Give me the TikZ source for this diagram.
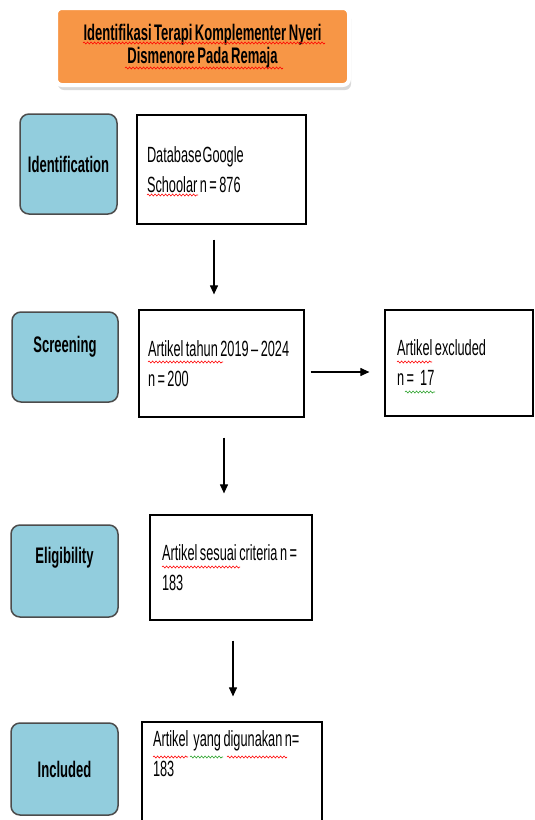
\documentclass[tikz,border=0pt]{standalone}
\usepackage{fontspec}
\setmainfont[FakeStretch=0.58,WordSpace=0.7]{Liberation Sans}
\usepackage{tikz}
\usetikzlibrary{arrows,arrows.meta,shadows,decorations.pathmorphing}

\definecolor{phaseblue}{RGB}{146,205,221}
\definecolor{titleorange}{RGB}{247,150,70}
\definecolor{spellgreen}{RGB}{40,160,40}

\begin{document}
\begin{tikzpicture}[x=1pt,y=-1pt,
  phase/.style={draw=black!70,line width=1.5pt,fill=phaseblue,rounded corners=9pt,
    minimum width=106pt,font=\fontsize{22.5pt}{25pt}\selectfont\bfseries},
  record/.style={draw,line width=1.2pt,align=flush left,inner ysep=0pt,
    font=\fontsize{22pt}{30pt}\selectfont},
  flow/.style={-{Triangle[length=9pt,width=8pt]},line width=1.1pt},
  spell/.style={red,line width=0.6pt,decorate,decoration={snake,amplitude=1pt,segment length=3.5pt}}]
\useasboundingbox (0,0) rectangle (535,820);

% title
   \draw (202.5,46.5) node[draw=white,line width=4pt,fill=titleorange,rounded corners=6pt,
     minimum width=293pt,minimum height=77pt,align=center,
     drop shadow={shadow xshift=2pt,shadow yshift=-5pt,opacity=0.3},
     font=\fontsize{22.5pt}{23pt}\selectfont\bfseries] (title)
     {Identifikasi Terapi Komplementer Nyeri\\Dismenore Pada Remaja};

% phases
  \draw (68.5,164) node[phase,minimum width=97pt,minimum height=100pt] (ident) {Identification};
  \draw (65,357) node[phase,minimum height=90pt,
     label={[yshift=10pt,font=\fontsize{22.5pt}{25pt}\selectfont\bfseries]center:Screening}] (screen) {};
  \draw (64.5,571) node[phase,minimum width=107pt,minimum height=92pt,
     label={[yshift=13pt,font=\fontsize{22.5pt}{25pt}\selectfont\bfseries]center:Eligibility}] (elig) {};
  \draw (64.5,769) node[phase,minimum width=107pt,minimum height=92pt] (incl) {Included};

% records
  \draw (221.5,169.5) node[record,text width=149pt,inner xsep=10pt,minimum height=109pt] (db)
     {\mbox{Database\hspace{1pt}Google}\\\mbox{Schoolar n = 876}};
  \draw (221.5,363.5) node[record,text width=147pt,inner xsep=9pt,minimum height=107pt] (artikel)
     {\mbox{Artikel tahun 2019 -- 2024}\\n = 200};
  \draw (459,363) node[record,text width=124pt,inner xsep=12pt,minimum height=106pt] (excl)
     {\mbox{Artikel excluded}\\\mbox{n =\ \,17}};
  \draw (231,567.5) node[record,text width=138pt,inner xsep=12pt,minimum height=105pt] (kriteria)
     {\mbox{Artikel sesuai criteria n =}\\183};
  \draw (232,773) node[record,text width=158pt,inner xsep=11pt,minimum height=102pt] (pakai)
     {\mbox{Artikel\ \ yang digunakan n=}\\183\\\strut};

% spell-check marks
  \draw[spell] (83,43) -- (325,43);
  \draw[spell] (125,68) -- (283,68);
  \draw[spell] (147,195) -- (198,195);
  \draw[spell] (148,362) -- (223,362);
  \draw[spell] (397,362) -- (432,362);
  \draw[spell,spellgreen] (405,392) -- (435,392);
  \draw[spell] (162,567) -- (240,567);
  \draw[spell] (153,757) -- (188,757);
  \draw[spell,spellgreen] (190,757) -- (223,757);
  \draw[spell] (227,757) -- (287,757);

% arrows
  \draw[flow,shorten <=15pt,shorten >=15pt] ([xshift=-7.5pt]db.south) -- ([xshift=-7.5pt]artikel.north);
  \draw[flow,shorten <=6pt,shorten >=15pt] ([yshift=-8.5pt]artikel.east) -- ([yshift=-8.5pt]artikel.east -| excl.west);
  \draw[flow,shorten <=20pt,shorten >=21pt] ([xshift=2.5pt]artikel.south) -- ([xshift=2.5pt]artikel.south |- kriteria.north);
  \draw[flow,shorten <=20pt,shorten >=25pt] ([xshift=2pt]kriteria.south) -- ([xshift=2pt]kriteria.south |- pakai.north);

\end{tikzpicture}
\end{document}
